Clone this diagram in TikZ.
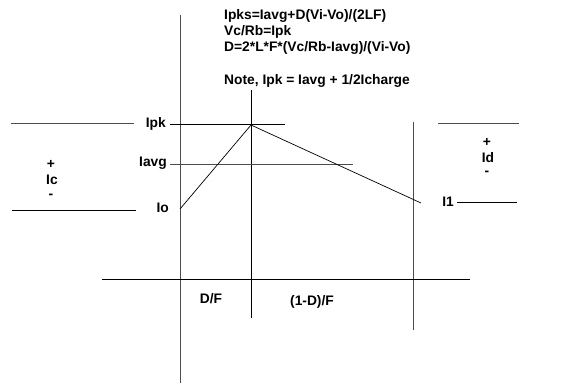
\documentclass[tikz,border=0pt]{standalone}
\usepackage{fontspec}
\setmainfont{Liberation Sans}
\begin{document}
\begin{tikzpicture}[x=1pt,y=-1pt,
  lbl/.style={font=\bfseries\fontsize{13.8}{16}\selectfont, inner sep=0pt, text=black},
  gline/.style={draw=black!70, line width=0.9pt},
  bline/.style={draw=black, line width=0.8pt},
  ramp/.style={draw=black, line width=0.7pt}]
\useasboundingbox (0,0) rectangle (563,385);
% axes and grid lines
\coordinate (v1t) at (180,15);   \coordinate (v1b) at (180,383);
\coordinate (v2t) at (251,90);   \coordinate (v2b) at (251,318);
\coordinate (v3t) at (413,122);  \coordinate (v3b) at (413,330);
\coordinate (axl) at (102,279);  \coordinate (axr) at (470,279);
\draw[gline] (v1t) -- (v1b);
\draw[bline] (v2t) -- (v2b);
\draw[gline] (v3t) -- (v3b);
\draw[bline] (axl) -- (axr);
\coordinate (pkl) at (170,124); \coordinate (pkr) at (285,124);
\coordinate (avl) at (170,164); \coordinate (avr) at (353,164);
\draw[bline] (pkl) -- (pkr);
\draw[gline] (avl) -- (avr);
% left and right reference lines
\coordinate (lt1) at (11,123);  \coordinate (lt2) at (134,123);
\coordinate (lb1) at (12,210);  \coordinate (lb2) at (136,210);
\coordinate (rt1) at (438,123); \coordinate (rt2) at (519,123);
\coordinate (ri1) at (457,202); \coordinate (ri2) at (517,202);
\draw[gline] (lt1) -- (lt2);
\draw[bline] (lb1) -- (lb2);
\draw[gline] (rt1) -- (rt2);
\draw[bline] (ri1) -- (ri2);
% current waveform
\coordinate (io) at (180,209);
\coordinate (pk) at (251,125);
\coordinate (i1) at (421,203);
\draw[ramp] (io) -- (pk) -- (i1);
% labels
\node[lbl, anchor=east] (lpk) at (166,124) {Ipk};
\node[lbl, anchor=east] (lavg) at (167,163) {Iavg};
\node[lbl, anchor=east] (lio) at (169,208) {Io};
\node[lbl] (lcp) at (51,164) {+};
\node[lbl] (lc) at (52,180) {Ic};
\node[lbl] (lcm) at (51,196) {-};
\node[lbl] (ldp) at (487,142) {+};
\node[lbl] (ld) at (488,158) {Id};
\node[lbl] (ldm) at (487,173) {-};
\node[lbl, anchor=east] (li1) at (454,202) {I1};
\node[lbl] (ldf) at (211,299) {D/F};
\node[lbl] (l1df) at (312,302) {(1-D)/F};
\node[lbl, anchor=north west, align=left] (eqs) at (224,9)
  {Ipks=Iavg+D(Vi-Vo)/(2LF)\\Vc/Rb=Ipk\\D=2*L*F*(Vc/Rb-Iavg)/(Vi-Vo)};
\node[lbl, anchor=west] (note) at (224,81) {Note, Ipk = Iavg + 1/2Icharge};
\end{tikzpicture}
\end{document}
